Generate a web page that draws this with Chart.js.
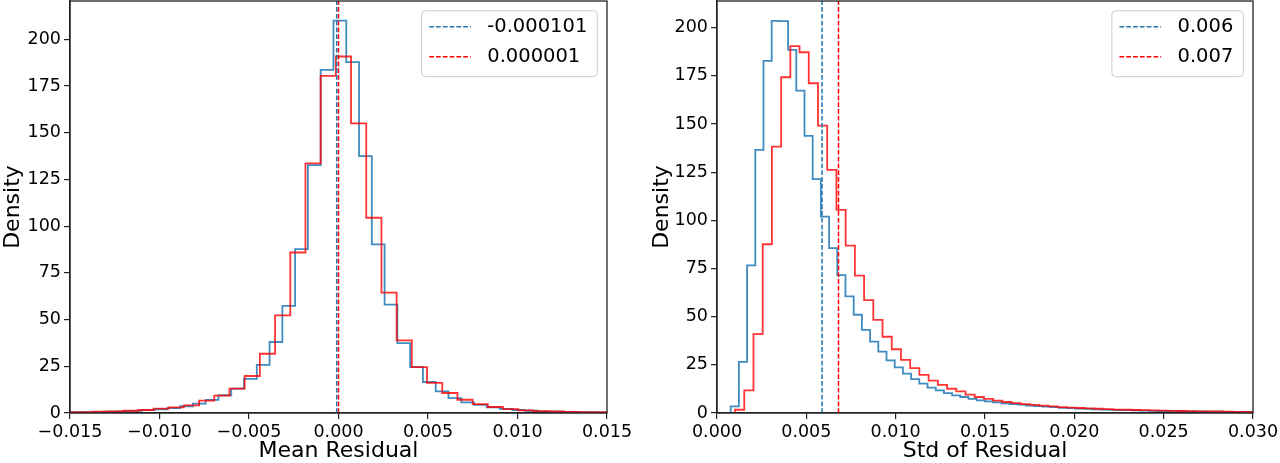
<!DOCTYPE html>
<html>
<head>
<meta charset="utf-8">
<script src="https://cdn.jsdelivr.net/npm/chart.js@4.4.1/dist/chart.umd.min.js"></script>
<style>
html, body { margin: 0; padding: 0; background: #fff; overflow: hidden; }
#wrap { position: relative; width: 1280px; height: 463px; }
canvas { position: absolute; top: 0; }
#meanChart { left: 0; }
#stdChart { left: 640px; }
</style>
</head>
<body>
<div id="wrap">
  <canvas id="meanChart" width="640" height="463"></canvas>
  <canvas id="stdChart" width="640" height="463"></canvas>
</div>
<script>
// --- left panel: mean of residual, two histograms (density) ---
const meanBlueStart = -0.015275, meanBlueWidth = 0.000714;
const meanBlueDensity = [0.3, 0.4, 0.5, 0.7, 0.9, 1.1, 1.5, 2.0, 2.6, 3.6, 5.0, 7.0, 9.5, 13.0,
  18.3, 25.8, 38.0, 57.3, 87.7, 132.7, 183.6, 210.0, 187.8, 137.5, 90.3, 58.0, 37.4, 24.6,
  16.6, 11.6, 8.0, 5.7, 4.3, 3.0, 2.2, 1.6, 1.2, 0.9, 0.7, 0.5, 0.4, 0.3, 0.3];
const meanRedStart = -0.01543, meanRedWidth = 0.000849;
const meanRedDensity = [0.4, 0.5, 0.7, 0.9, 1.2, 1.6, 2.3, 3.0, 4.1, 6.6, 9.3, 13.0,
  19.8, 31.7, 52.3, 85.9, 133.6, 180.4, 190.8, 155.0, 104.5, 64.4, 38.9, 24.5,
  16.1, 10.7, 7.1, 4.8, 3.2, 2.1, 1.4, 1.0, 0.8, 0.6, 0.5, 0.4, 0.3];
const meanLines = [-0.000101, 0.000001];
const meanLabels = ['-0.000101', '0.000001'];
const meanTicks = [-0.015, -0.010, -0.005, 0, 0.005, 0.010, 0.015];
const meanYMax = 220.5;

// --- right panel: std of residual ---
const stdBlueStart = 0.000766, stdBlueWidth = 0.000459;
const stdBlueDensity = [3.4, 26.5, 76.6, 136.6, 182.8, 203.6, 203.4, 188.5, 167.4, 143.9,
  121.4, 102.0, 85.6, 71.6, 60.5, 51.0, 43.2, 37.1, 31.9, 27.3, 23.7, 20.4, 17.6, 15.2,
  13.2, 11.7, 10.3, 9.1, 8.3, 7.3, 6.6, 6.0, 5.5, 5.0, 4.6, 4.3, 3.9, 3.6, 3.3, 3.0,
  2.7, 2.5, 2.3, 2.1, 1.9, 1.8, 1.6, 1.5, 1.45, 1.35, 1.25, 1.15, 1.05, 0.97, 0.92, 0.87,
  0.82, 0.77, 0.73, 0.68, 0.63, 0.58, 0.53, 0.48, 0.48];
const stdRedStart = 0.001009, stdRedWidth = 0.000516;
const stdRedDensity = [1.7, 11.7, 41.0, 87.6, 138.3, 174.3, 190.5, 187.3, 171.2, 149.2,
  126.2, 105.5, 86.9, 71.3, 58.6, 48.3, 39.6, 33.1, 27.6, 23.3, 19.8, 16.8, 14.6, 12.6,
  11.2, 9.5, 8.3, 7.3, 6.4, 5.7, 5.1, 4.6, 4.2, 3.8, 3.4, 3.1, 2.8, 2.6, 2.4, 2.2,
  2.0, 1.8, 1.7, 1.55, 1.45, 1.35, 1.25, 1.15, 1.05, 0.97, 0.87, 0.82, 0.77, 0.68, 0.63, 0.58,
  0.53, 0.48];
const stdLines = [0.00588, 0.0068];
const stdLabels = ['0.006', '0.007'];
const stdTicks = [0, 0.005, 0.010, 0.015, 0.020, 0.025, 0.030];
const stdYMax = 213.9;

const densityTicks = [0, 25, 50, 75, 100, 125, 150, 175, 200];

const BLUE = '#1f77b4', RED = '#ff0000', AXIS = '#222';
Chart.defaults.font.family = "'DejaVu Sans', sans-serif";
Chart.defaults.color = '#000';

// outline of a step histogram: starts and ends on the baseline
function stepPoints(start, width, dens) {
  const pts = [{x: start, y: 0}];
  dens.forEach((d, i) => pts.push({x: start + i * width, y: d}));
  pts.push({x: start + dens.length * width, y: 0});
  return pts;
}

function hist(start, width, dens, color, order) {
  return {data: stepPoints(start, width, dens), borderColor: color, borderWidth: 1.8,
    stepped: true, pointRadius: 0, order: order};
}

// axvline: runs over the whole height of the axes
function vline(v, yMax, label, color, order) {
  return {data: [{x: v, y: 0}, {x: v, y: yMax}], label: label, meanLine: true,
    borderColor: color, borderWidth: 1.5, borderDash: [4.7, 2.1], pointRadius: 0, order: order};
}

const fmt = v => {
  let s = v.toFixed(3);
  if (s === '-0.000') s = '0.000';
  return s.replace('-', '\u2212');
};

// frame around the axes and a matplotlib-like legend box in the upper right
const panelDecor = {
  id: 'panelDecor',
  afterDraw(chart) {
    const {ctx, chartArea: a} = chart;
    ctx.save();
    ctx.strokeStyle = AXIS;
    ctx.lineWidth = 1.3;
    ctx.strokeRect(a.left, a.top, a.right - a.left, a.bottom - a.top);

    const items = chart.data.datasets.filter(d => d.meanLine);
    ctx.font = '19.5px "DejaVu Sans"';
    const tw = Math.max(...items.map(d => ctx.measureText(d.label).width));
    const w = 7.6 + 41.7 + 16.3 + tw + 10;
    const right = a.right - 9.7, top = a.top + 9.7, h = 66;
    const left = right - w;
    ctx.beginPath();
    ctx.roundRect(left, top, w, h, 4);
    ctx.fillStyle = 'rgba(255,255,255,0.8)';
    ctx.fill();
    ctx.strokeStyle = '#cccccc';
    ctx.lineWidth = 1;
    ctx.stroke();
    items.forEach((d, i) => {
      const y = top + 16 + i * 30;
      ctx.setLineDash(d.borderDash);
      ctx.strokeStyle = d.borderColor;
      ctx.lineWidth = d.borderWidth;
      ctx.beginPath();
      ctx.moveTo(left + 7.6, y);
      ctx.lineTo(left + 49.3, y);
      ctx.stroke();
      ctx.setLineDash([]);
      ctx.fillStyle = '#000';
      ctx.textBaseline = 'middle';
      ctx.textAlign = 'left';
      ctx.fillText(d.label, left + 65.6, y);
    });
    ctx.restore();
  }
};

function makeChart(id, o) {
  const zeroPad = s => { s.paddingLeft = s.paddingRight = s.paddingTop = s.paddingBottom = 0; };
  return new Chart(document.getElementById(id), {
    type: 'line',
    data: {
      datasets: [
        hist(o.blueStart, o.blueWidth, o.blue, 'rgba(31,119,180,0.85)', 4),
        hist(o.redStart, o.redWidth, o.red, 'rgba(255,0,0,0.8)', 3),
        vline(o.lines[0], o.yMax, o.labels[0], BLUE, 2),
        vline(o.lines[1], o.yMax, o.labels[1], RED, 1)
      ]
    },
    options: {
      responsive: false,
      animation: false,
      events: [],
      layout: {autoPadding: false, padding: {left: 0, right: o.padRight, top: 1, bottom: 0}},
      plugins: {legend: {display: false}, tooltip: {enabled: false}},
      scales: {
        x: {
          type: 'linear', min: o.xTicks[0], max: o.xTicks[o.xTicks.length - 1],
          afterBuildTicks: s => { s.ticks = o.xTicks.map(v => ({value: v})); },
          afterFit: s => { s.height = 50; zeroPad(s); },
          ticks: {callback: v => fmt(v), font: {size: 17.5}, padding: 3, maxRotation: 0, autoSkip: false},
          grid: {display: true, drawOnChartArea: false, drawTicks: true, tickLength: 6, color: AXIS, lineWidth: 1.2},
          border: {display: true, color: AXIS, width: 1.3},
          title: {display: true, text: o.xTitle, font: {size: 22, lineHeight: 1.1}, padding: {top: 0, bottom: 0}}
        },
        y: {
          min: 0, max: o.yMax,
          afterBuildTicks: s => { s.ticks = densityTicks.map(v => ({value: v})); },
          afterFit: s => { s.width = o.yWidth; zeroPad(s); },
          ticks: {callback: v => String(v), font: {size: 17.5}, padding: 3, autoSkip: false},
          grid: {display: true, drawOnChartArea: false, drawTicks: true, tickLength: 6, color: AXIS, lineWidth: 1.2},
          border: {display: true, color: AXIS, width: 1.3},
          title: {display: true, text: 'Density', font: {size: 22, lineHeight: 1.2}, padding: {top: o.yTitlePad, bottom: 0}}
        }
      }
    },
    plugins: [panelDecor]
  });
}

makeChart('meanChart', {
  blueStart: meanBlueStart, blueWidth: meanBlueWidth, blue: meanBlueDensity,
  redStart: meanRedStart, redWidth: meanRedWidth, red: meanRedDensity,
  lines: meanLines, labels: meanLabels, xTicks: meanTicks, xTitle: 'Mean Residual',
  yMax: meanYMax, yWidth: 70, padRight: 33, yTitlePad: 0
});

makeChart('stdChart', {
  blueStart: stdBlueStart, blueWidth: stdBlueWidth, blue: stdBlueDensity,
  redStart: stdRedStart, redWidth: stdRedWidth, red: stdRedDensity,
  lines: stdLines, labels: stdLabels, xTicks: stdTicks, xTitle: 'Std of Residual',
  yMax: stdYMax, yWidth: 77, padRight: 27, yTitlePad: 9
});
</script>
</body>
</html>
